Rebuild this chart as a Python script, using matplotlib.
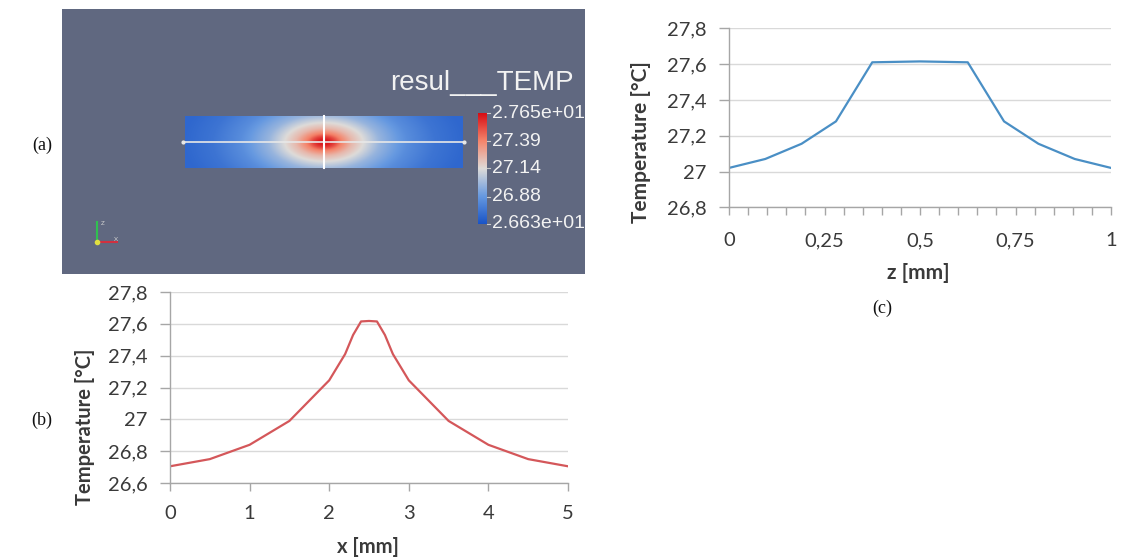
import numpy as np
import matplotlib
matplotlib.use("Agg")
import matplotlib.pyplot as plt
from matplotlib.colors import LinearSegmentedColormap
from matplotlib.ticker import FuncFormatter

# temperature along x through the hot spot, mid-thickness
x_mm = [0, 0.5, 1, 1.5, 2, 2.2, 2.3, 2.4, 2.5, 2.6, 2.7, 2.8, 3, 3.5, 4, 4.5, 5]
temp_x = [26.705, 26.75, 26.84, 26.99, 27.245, 27.41, 27.53, 27.615, 27.618,
          27.615, 27.53, 27.41, 27.245, 26.99, 26.84, 26.75, 26.705]

# temperature across the thickness at x = 2.5 mm
z_mm = [0, 0.095, 0.19, 0.28, 0.375, 0.5, 0.625, 0.72, 0.81, 0.905, 1]
temp_z = [27.02, 27.07, 27.155, 27.28, 27.61, 27.615, 27.61, 27.28, 27.155, 27.07, 27.02]

# colour legend of the field view
t_min, t_max = 26.63, 27.65
legend_values = [27.65, 27.39, 27.14, 26.88, 26.63]
legend_labels = ["2.765e+01", "27.39", "27.14", "26.88", "2.663e+01"]

W, H = 1124, 558
GRID = "#d9d9d9"
AXIS = "#a6a6a6"
TEXT = "#3a3a3a"

plt.rcParams["font.family"] = ["Lato", "DejaVu Sans"]

fig = plt.figure(figsize=(W / 100, H / 100), dpi=100)


def frac(left, top, right, bottom):
    return [left / W, (H - bottom) / H, (right - left) / W, (bottom - top) / H]


def comma(v, _pos=None):
    s = f"{v:.2f}".rstrip("0").rstrip(".")
    return s.replace(".", ",")


# ---- (a) field view ------------------------------------------------------
ax_a = fig.add_axes(frac(62, 9, 585, 274))
ax_a.set_facecolor("#606880")
px_x = (462.3 - 185) / 5
px_z = 167.7 - 116
ax_a.set_xlim((62 - 185) / px_x, (585 - 185) / px_x)
ax_a.set_ylim((167.7 - 274) / px_z, (167.7 - 9) / px_z)
ax_a.set_xticks([])
ax_a.set_yticks([])
for s in ax_a.spines.values():
    s.set_visible(False)

cool_warm = LinearSegmentedColormap.from_list("cool_warm", [
    (0.0, (0.10, 0.33, 0.78)),
    (0.25, (0.40, 0.60, 0.88)),
    (0.5, (0.87, 0.86, 0.85)),
    (0.75, (0.96, 0.52, 0.42)),
    (1.0, (0.84, 0.05, 0.08)),
])

# field around the hot spot: x-profile sampled at an elliptic distance,
# with the z stretch chosen so the plate faces reach the z-profile edge value
xs = np.linspace(0, 5, 500)
zs = np.linspace(0, 1, 120)
xc = 2.5
edge_x = np.interp(temp_z[0], temp_x[len(temp_x) // 2:][::-1], x_mm[len(x_mm) // 2:][::-1])
stretch = (edge_x - xc) / 0.5
dx, dz = np.meshgrid(xs - xc, zs - 0.5)
r = np.sqrt(dx ** 2 + (stretch * dz) ** 2)
field = np.interp(xc + r, x_mm, temp_x)
ax_a.imshow(field, origin="lower", extent=[0, 5, 0, 1], cmap=cool_warm,
            vmin=t_min, vmax=t_max, aspect="auto", interpolation="bilinear")

# probe lines
ax_a.plot([-0.03, 5.03], [0.5, 0.5], color="#e8e8e8", lw=1.2)
ax_a.plot([-0.03, 5.03], [0.5, 0.5], ls="none", marker="o", ms=2, color="#e8e8e8")
ax_a.plot([2.5, 2.5], [0, 1], color="white", lw=1.5)

# colour bar
cb_x0, cb_x1 = (478 - 185) / px_x, (487 - 185) / px_x
cb_lo, cb_hi = (167.7 - 224) / px_z, (167.7 - 113) / px_z
ramp = np.linspace(t_min, t_max, 256)[:, None]
ax_a.imshow(ramp, origin="lower", extent=[cb_x0, cb_x1, cb_lo, cb_hi],
            cmap=cool_warm, vmin=t_min, vmax=t_max, aspect="auto")
for v, lab in zip(legend_values, legend_labels):
    zz = cb_lo + (v - t_min) / (t_max - t_min) * (cb_hi - cb_lo)
    ax_a.plot([cb_x1, cb_x1 + 0.05], [zz, zz], color="#c8c8c8", lw=0.8)
    ax_a.text((492 - 185) / px_x, zz, lab, color="#f2f2f2", fontsize=14,
              family="Liberation Sans", va="center", ha="left", clip_on=True)
ax_a.text((390 - 185) / px_x, (167.7 - 83) / px_z, "resul___TEMP", color="#f2f2f2",
          fontsize=20, family="Liberation Sans", va="center", ha="left", clip_on=True)

# orientation triad
ox, oz = (97.3 - 185) / px_x, (167.7 - 241.7) / px_z
ax_a.plot([ox, ox], [oz, (167.7 - 221.7) / px_z], color="#30c050", lw=1.5)
ax_a.plot([ox, (116.7 - 185) / px_x], [oz, oz], color="#d03040", lw=1.5)
ax_a.plot([ox], [oz], marker="o", ms=3, color="#e0e040")
ax_a.text(ox + 0.06, (167.7 - 225) / px_z, "Z", color="#d0d0d0", fontsize=4.5)
ax_a.text((114 - 185) / px_x, oz + 0.02, "X", color="#d0d0d0", fontsize=4.5)


def style_chart(ax):
    for side in ("top", "right"):
        ax.spines[side].set_visible(False)
    for side in ("left", "bottom"):
        ax.spines[side].set_color(AXIS)
        ax.spines[side].set_linewidth(1)
    ax.grid(axis="y", color=GRID, lw=1)
    ax.set_axisbelow(True)
    ax.tick_params(colors=AXIS, labelcolor=TEXT, labelsize=14.5, direction="out")
    ax.tick_params(axis="x", length=6, width=1)
    ax.tick_params(axis="y", length=7, width=1)
    ax.yaxis.set_major_formatter(FuncFormatter(comma))
    ax.xaxis.set_major_formatter(FuncFormatter(comma))


# ---- (b) profile along x ---------------------------------------------------
ax_b = fig.add_axes(frac(170, 292, 568, 483))
ax_b.plot(x_mm, temp_x, color="#d4575a", lw=1.6)
ax_b.set_xlim(0, 5)
ax_b.set_ylim(26.6, 27.8)
ax_b.set_xticks([0, 1, 2, 3, 4, 5])
ax_b.set_yticks([26.6, 26.8, 27.0, 27.2, 27.4, 27.6, 27.8])
style_chart(ax_b)
ax_b.tick_params(axis="x", pad=10)
ax_b.tick_params(axis="y", pad=9)
fig.text(85 / W, 1 - 427 / H, "Temperature [°C]", rotation=90, ha="center",
         va="center", fontsize=14.5, fontweight="bold", color=TEXT)
fig.text(368 / W, 1 - 547 / H, "x [mm]", ha="center", va="center",
         fontsize=14.5, fontweight="bold", color=TEXT)

# ---- (c) profile across thickness ------------------------------------------
ax_c = fig.add_axes(frac(729, 28.3, 1111, 207.3))
ax_c.plot(z_mm, temp_z, color="#4a8fc5", lw=1.6)
ax_c.set_xlim(0, 1)
ax_c.set_ylim(26.8, 27.8)
ax_c.set_xticks([0, 0.25, 0.5, 0.75, 1])
ax_c.set_xticks(np.linspace(0, 1, 21), minor=True)
ax_c.set_yticks([26.8, 27.0, 27.2, 27.4, 27.6, 27.8])
style_chart(ax_c)
ax_c.tick_params(axis="x", which="minor", length=6, width=1, colors=AXIS)
ax_c.tick_params(axis="x", pad=12)
ax_c.tick_params(axis="y", pad=9)
fig.text(641 / W, 1 - 142 / H, "Temperature [°C]", rotation=90, ha="center",
         va="center", fontsize=15, fontweight="bold", color=TEXT)
fig.text(918 / W, 1 - 273 / H, "z [mm]", ha="center", va="center",
         fontsize=15, fontweight="bold", color=TEXT)

# panel tags
for label, px, py in (("(a)", 42, 145), ("(b)", 42, 420), ("(c)", 882, 308)):
    fig.text(px / W, 1 - py / H, label, ha="center", va="center",
             fontsize=13, family="Liberation Serif", color="#111111")

fig.savefig("out.png", dpi=100)
